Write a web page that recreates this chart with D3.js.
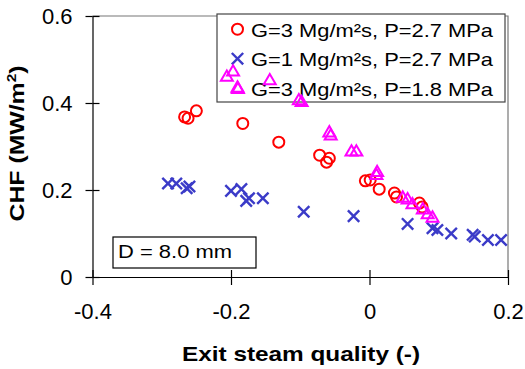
<!DOCTYPE html>
<html>
<head>
<meta charset="utf-8">
<script src="https://cdn.jsdelivr.net/npm/d3@7"></script>
<style>
  html, body { margin: 0; padding: 0; background: #fff; }
  svg { display: block; font-family: Arial, "Liberation Sans", sans-serif; }
</style>
</head>
<body>
<svg id="chart" width="525" height="369"></svg>
<script>
// CHF versus exit steam quality, three flow/pressure conditions
const xTicks = [-0.4, -0.2, 0, 0.2];
const yTicks = [0, 0.2, 0.4, 0.6];
const xTickLabels = ["-0.4", "-0.2", "0", "0.2"];
const yTickLabels = ["0", "0.2", "0.4", "0.6"];

const seriesNames = [
  "G=3 Mg/m²s, P=2.7 MPa",
  "G=1 Mg/m²s, P=2.7 MPa",
  "G=3 Mg/m²s, P=1.8 MPa"
];

// G=3 Mg/m²s, P=2.7 MPa
const qualityG3P27 = [-0.267, -0.262, -0.250, -0.183, -0.131, -0.072, -0.058, -0.062, -0.006, 0.001, 0.014, 0.036, 0.039, 0.072, 0.076];
const chfG3P27     = [0.368, 0.365, 0.382, 0.353, 0.310, 0.280, 0.273, 0.264, 0.221, 0.223, 0.202, 0.193, 0.184, 0.170, 0.161];

// G=1 Mg/m²s, P=2.7 MPa
const qualityG1P27 = [-0.291, -0.279, -0.264, -0.260, -0.200, -0.185, -0.178, -0.174, -0.154, -0.095, -0.023, 0.055, 0.091, 0.098, 0.118, 0.149, 0.152, 0.171, 0.190];
const chfG1P27     = [0.215, 0.215, 0.204, 0.208, 0.198, 0.202, 0.175, 0.181, 0.181, 0.150, 0.140, 0.122, 0.112, 0.108, 0.100, 0.097, 0.093, 0.085, 0.085];

// G=3 Mg/m²s, P=1.8 MPa
const qualityG3P18 = [-0.206, -0.197, -0.190, -0.144, -0.102, -0.098, -0.058, -0.056, -0.026, -0.019, 0.011, 0.010, 0.048, 0.055, 0.062, 0.077, 0.084, 0.091];
const chfG3P18     = [0.459, 0.471, 0.431, 0.451, 0.405, 0.401, 0.331, 0.324, 0.287, 0.287, 0.240, 0.233, 0.181, 0.177, 0.166, 0.154, 0.143, 0.135];

const diameterLabel = "D = 8.0 mm";

const svg = d3.select("#chart");

const x = d3.scaleLinear().domain([-0.4, 0.2]).range([92.5, 508]);
const y = d3.scaleLinear().domain([0, 0.6]).range([277, 16]);

// plot frame (top and right edges)
svg.append("path")
  .attr("d", `M${x(-0.4)},${y(0.6)}H${x(0.2)}V${y(0)}`)
  .attr("fill", "none")
  .attr("stroke", "#777")
  .attr("stroke-width", 1.2);

// axes: outward ticks with labels, plus inward ticks
svg.append("g").attr("transform", `translate(0,${y(0)})`)
  .call(d3.axisBottom(x).tickValues(xTicks)
    .tickFormat((d, i) => xTickLabels[i]).tickSizeInner(8).tickSizeOuter(0).tickPadding(18));
svg.append("g").attr("transform", `translate(0,${y(0)})`)
  .call(d3.axisBottom(x).tickValues(xTicks).tickFormat("").tickSizeInner(-7).tickSizeOuter(0))
  .select(".domain").remove();

svg.append("g").attr("transform", `translate(${x(-0.4)},0)`)
  .call(d3.axisLeft(y).tickValues(yTicks)
    .tickFormat((d, i) => yTickLabels[i]).tickSizeInner(7).tickSizeOuter(0).tickPadding(13));
svg.append("g").attr("transform", `translate(${x(-0.4)},0)`)
  .call(d3.axisLeft(y).tickValues(yTicks).tickFormat("").tickSizeInner(-7).tickSizeOuter(0))
  .select(".domain").remove();

svg.selectAll(".domain, .tick line").attr("stroke", "#000").attr("stroke-width", 1.2);
svg.selectAll(".tick text")
  .attr("font-size", 22)
  .attr("font-family", "Arial, 'Liberation Sans', sans-serif")
  .attr("fill", "#000");

// axis titles
svg.append("text")
  .attr("x", 301).attr("y", 361)
  .attr("text-anchor", "middle")
  .attr("font-size", 21).attr("font-weight", "bold")
  .attr("textLength", 238).attr("lengthAdjust", "spacingAndGlyphs")
  .text("Exit steam quality (-)");

const yTitle = svg.append("text")
  .attr("transform", "translate(24,143.5) rotate(-90)")
  .attr("text-anchor", "middle")
  .attr("font-size", 21).attr("font-weight", "bold")
  .attr("textLength", 156).attr("lengthAdjust", "spacingAndGlyphs");
yTitle.append("tspan").text("CHF (MW/m");
yTitle.append("tspan").attr("font-size", 13).attr("dy", -8).text("2");
yTitle.append("tspan").attr("dy", 8).text(")");

// diameter note
svg.append("rect")
  .attr("x", 113).attr("y", 237).attr("width", 143).attr("height", 31)
  .attr("fill", "#fff").attr("stroke", "#000").attr("stroke-width", 1.2);
svg.append("text")
  .attr("x", 118).attr("y", 257.5)
  .attr("font-size", 19)
  .attr("textLength", 114).attr("lengthAdjust", "spacingAndGlyphs")
  .text(diameterLabel);

// marker definitions
const crossType = d3.symbolX || d3.symbolTimes;
const styles = [
  { sym: d3.symbol(d3.symbolCircle, 95), color: "#ff0000", width: 2 },
  { sym: d3.symbol(crossType, 86), color: "#3b3bc8", width: 2.4 },
  { sym: d3.symbol(d3.symbolTriangle, 62), color: "#ff00ff", width: 2 }
];

// legend
const legend = svg.append("g");
legend.append("rect")
  .attr("x", 217).attr("y", 14).attr("width", 288).attr("height", 88)
  .attr("fill", "#fff").attr("stroke", "#444").attr("stroke-width", 1.2);
seriesNames.forEach((name, i) => {
  const base = 36.7 + i * 29.5;
  legend.append("path")
    .attr("d", styles[i].sym())
    .attr("transform", `translate(237.5,${base - 7.5})`)
    .attr("fill", "none").attr("stroke", styles[i].color).attr("stroke-width", styles[i].width);
  legend.append("text")
    .attr("x", 251).attr("y", base)
    .attr("font-size", 19)
    .attr("textLength", 242).attr("lengthAdjust", "spacingAndGlyphs")
    .text(name);
});

// data points
const series = [
  d3.zip(qualityG3P27, chfG3P27),
  d3.zip(qualityG1P27, chfG1P27),
  d3.zip(qualityG3P18, chfG3P18)
];
series.forEach((pts, i) => {
  svg.append("g").selectAll("path")
    .data(pts)
    .join("path")
    .attr("d", styles[i].sym())
    .attr("transform", d => `translate(${x(d[0])},${y(d[1])})`)
    .attr("fill", "none")
    .attr("stroke", styles[i].color)
    .attr("stroke-width", styles[i].width);
});
</script>
</body>
</html>
